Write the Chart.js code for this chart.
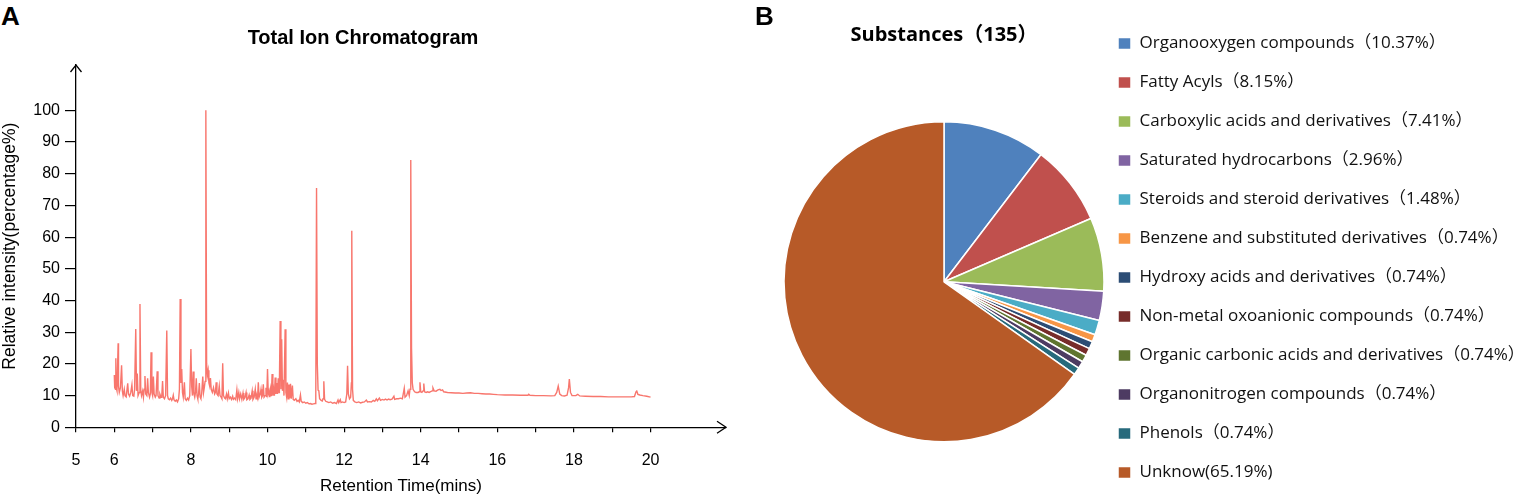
<!DOCTYPE html>
<html>
<head>
<meta charset="utf-8">
<script src="https://cdn.jsdelivr.net/npm/chart.js@4.4.1/dist/chart.umd.min.js"></script>
<style>
    html, body { margin: 0; padding: 0; background: #fff; overflow: hidden; }
    #wrap { position: relative; width: 1520px; height: 495px; }
    #tic-box { position: absolute; left: 0; top: 0; width: 762px; height: 495px; }
    #pie-box { position: absolute; left: 740px; top: 0; width: 780px; height: 516px; }
    .panel { position: absolute; font: bold 26px "Liberation Sans", Arial, sans-serif; color: #000; }
</style>
</head>
<body>
<div id="wrap">
    <div class="panel" style="left:1px; top:1px;">A</div>
    <div id="tic-box"><canvas id="ticChart"></canvas></div>
    <div id="pie-box"><canvas id="pieChart"></canvas></div>
    <div class="panel" style="left:755px; top:1px;">B</div>
</div>

<script>

// chromatogram: retention time (mins) and relative intensity (%)
const retentionTime = [
    6.00, 6.01, 6.03, 6.04, 6.05, 6.07, 6.10, 6.11, 6.13, 6.16, 6.19, 6.21, 6.23, 6.26, 6.28, 6.31, 6.35, 6.37, 6.40, 6.43,
    6.46, 6.48, 6.51, 6.53, 6.56, 6.58, 6.60, 6.62, 6.65, 6.67, 6.69, 6.71, 6.74, 6.76, 6.78, 6.80, 6.82, 6.85, 6.87, 6.89,
    6.92, 6.94, 6.96, 6.98, 7.00, 7.02, 7.04, 7.07, 7.09, 7.12, 7.14, 7.17, 7.19, 7.22, 7.24, 7.26, 7.28, 7.31, 7.34, 7.37,
    7.39, 7.41, 7.44, 7.47, 7.50, 7.52, 7.54, 7.56, 7.59, 7.62, 7.65, 7.68, 7.70, 7.72, 7.74, 7.76, 7.78, 7.80, 7.83, 7.85,
    7.88, 7.91, 7.94, 7.97, 8.00, 8.02, 8.04, 8.06, 8.08, 8.10, 8.12, 8.14, 8.16, 8.18, 8.20, 8.22, 8.24, 8.26, 8.28, 8.31,
    8.33, 8.35, 8.37, 8.39, 8.41, 8.43, 8.45, 8.47, 8.49, 8.51, 8.53, 8.56, 8.59, 8.62, 8.64, 8.66, 8.68, 8.71, 8.74, 8.76,
    8.79, 8.81, 8.83, 8.85, 8.88, 8.90, 8.93, 8.95, 8.98, 9.00, 9.03, 9.06, 9.09, 9.11, 9.14, 9.17, 9.20, 9.22, 9.25, 9.27,
    9.30, 9.33, 9.36, 9.38, 9.41, 9.44, 9.46, 9.49, 9.52, 9.54, 9.57, 9.60, 9.62, 9.65, 9.68, 9.70, 9.72, 9.74, 9.76, 9.78,
    9.81, 9.83, 9.85, 9.87, 9.89, 9.91, 9.94, 9.96, 9.98, 10.00, 10.02, 10.04, 10.06, 10.08, 10.10, 10.12, 10.14, 10.16, 10.18, 10.20,
    10.22, 10.24, 10.26, 10.28, 10.30, 10.31, 10.33, 10.35, 10.37, 10.39, 10.41, 10.43, 10.46, 10.48, 10.50, 10.52, 10.54, 10.56, 10.58, 10.60,
    10.62, 10.65, 10.67, 10.70, 10.74, 10.77, 10.80, 10.83, 10.86, 10.88, 10.92, 10.96, 11.00, 11.04, 11.08, 11.12, 11.16, 11.20, 11.24, 11.26,
    11.28, 11.30, 11.32, 11.34, 11.36, 11.40, 11.43, 11.45, 11.47, 11.49, 11.52, 11.56, 11.60, 11.65, 11.70, 11.75, 11.80, 11.84, 11.86, 11.90,
    11.92, 11.96, 12.00, 12.04, 12.07, 12.09, 12.11, 12.14, 12.17, 12.19, 12.20, 12.22, 12.24, 12.28, 12.33, 12.38, 12.43, 12.48, 12.53, 12.58,
    12.61, 12.66, 12.71, 12.76, 12.80, 12.84, 12.87, 12.92, 12.95, 13.00, 13.04, 13.08, 13.12, 13.16, 13.20, 13.25, 13.30, 13.32, 13.37, 13.42,
    13.47, 13.52, 13.57, 13.59, 13.63, 13.67, 13.70, 13.72, 13.74, 13.76, 13.78, 13.80, 13.84, 13.88, 13.93, 13.96, 13.98, 14.00, 14.03, 14.06,
    14.08, 14.10, 14.14, 14.18, 14.22, 14.27, 14.30, 14.32, 14.35, 14.40, 14.45, 14.50, 14.53, 14.57, 14.60, 14.70, 14.80, 14.90, 15.00, 15.10,
    15.20, 15.30, 15.40, 15.50, 15.60, 15.70, 15.80, 15.90, 16.00, 16.20, 16.40, 16.60, 16.80, 16.82, 16.85, 17.00, 17.20, 17.40, 17.50, 17.55,
    17.59, 17.63, 17.68, 17.75, 17.82, 17.86, 17.88, 17.91, 17.95, 18.05, 18.10, 18.15, 18.30, 18.50, 18.70, 18.90, 19.10, 19.30, 19.50, 19.58,
    19.62, 19.64, 19.67, 19.72, 19.80, 19.90, 20.00
];

const relIntensity = [
    16.5, 12.5, 12.0, 21.8, 12.5, 11.5, 26.5, 13.0, 11.0, 12.5, 19.6, 11.5, 10.0, 12.0, 10.0, 9.6, 13.9, 10.5, 9.8, 11.0,
    13.4, 10.0, 9.8, 12.0, 31.0, 11.5, 17.0, 10.0, 11.0, 38.9, 12.0, 10.0, 11.5, 9.5, 12.0, 16.2, 10.5, 10.0, 15.5, 11.0,
    9.5, 10.5, 23.7, 11.0, 10.0, 16.0, 10.5, 9.5, 10.0, 17.7, 10.0, 9.2, 10.5, 9.5, 10.0, 14.6, 9.5, 9.0, 10.0, 30.5,
    10.0, 9.0, 8.7, 9.2, 8.5, 9.0, 10.1, 8.6, 8.2, 8.6, 8.0, 9.0, 12.0, 40.5, 14.0, 18.4, 11.0, 9.5, 14.2, 9.0,
    8.5, 9.2, 8.6, 10.0, 24.7, 13.0, 10.0, 17.6, 10.5, 9.5, 11.0, 15.5, 10.0, 9.0, 10.5, 14.0, 9.5, 9.0, 10.5, 16.0,
    11.0, 12.5, 14.5, 100, 20.0, 16.5, 18.0, 14.0, 13.0, 15.5, 12.0, 11.0, 12.5, 10.5, 11.0, 14.2, 10.5, 10.0, 13.0, 10.0,
    9.5, 9.0, 20.2, 10.0, 9.2, 9.0, 10.5, 9.0, 10.8, 9.0, 9.5, 8.8, 9.8, 8.8, 9.2, 8.7, 11.8, 9.0, 11.0, 9.0,
    10.5, 8.8, 10.8, 8.8, 9.3, 11.0, 8.7, 9.0, 10.2, 8.8, 9.2, 11.5, 8.8, 9.5, 12.0, 9.0, 10.0, 9.2, 14.2, 9.5,
    10.5, 12.0, 9.5, 10.0, 13.6, 9.5, 10.0, 12.5, 9.5, 18.4, 10.5, 11.5, 9.5, 12.0, 9.8, 16.8, 10.0, 12.0, 10.0, 15.7,
    10.5, 14.0, 10.5, 15.5, 11.0, 14.0, 33.5, 12.0, 27.8, 11.5, 15.0, 10.0, 30.9, 11.0, 9.5, 14.1, 9.0, 13.5, 9.2, 13.7,
    9.0, 13.2, 8.8, 8.5, 9.0, 8.2, 8.5, 8.0, 10.2, 8.2, 7.8, 8.0, 7.6, 7.8, 7.4, 7.5, 7.3, 7.4, 7.5, 10.0,
    75.5, 20.0, 11.7, 11.5, 9.0, 8.5, 8.3, 9.0, 14.5, 8.8, 8.2, 8.0, 7.8, 8.0, 7.6, 7.8, 7.5, 8.6, 7.8, 8.7,
    7.8, 8.0, 7.8, 8.0, 10.5, 19.4, 10.5, 9.0, 9.5, 14.0, 62.0, 12.0, 8.5, 8.0, 7.8, 8.0, 7.7, 7.9, 8.0, 8.6,
    8.0, 8.1, 8.0, 8.5, 8.2, 9.0, 8.4, 9.2, 8.5, 8.8, 8.6, 8.9, 8.6, 8.9, 8.7, 8.9, 9.8, 8.8, 9.0, 9.0,
    9.2, 9.0, 12.3, 9.5, 10.0, 11.5, 10.0, 12.0, 84.3, 25.0, 14.0, 12.0, 11.2, 11.0, 11.0, 11.2, 14.2, 11.2, 11.0, 11.5,
    13.8, 11.2, 11.0, 11.2, 11.0, 11.3, 11.5, 12.4, 11.5, 11.4, 11.8, 12.0, 11.6, 11.8, 11.2, 11.0, 10.9, 10.8, 10.8, 10.7,
    10.8, 10.9, 10.7, 10.7, 10.6, 10.5, 10.5, 10.4, 10.3, 10.2, 10.2, 10.1, 10.1, 10.4, 10.1, 10.0, 10.0, 9.9, 10.0, 11.0,
    13.0, 10.5, 10.0, 9.9, 10.1, 12.5, 15.2, 11.0, 10.0, 10.0, 10.4, 9.9, 9.8, 9.7, 9.7, 9.6, 9.6, 9.6, 9.6, 9.7,
    11.2, 11.45, 10.4, 10.2, 10.0, 9.8, 9.5
];

// axis ticks
const xTickValues = [5, 6, 7, 8, 9, 10, 11, 12, 13, 14, 15, 16, 17, 18, 19, 20];
const xTickLabels = [5, 6, 8, 10, 12, 14, 16, 18, 20];
const yTickValues = [0, 10, 20, 30, 40, 50, 60, 70, 80, 90, 100];

// substance classes (share of 135, %)
const substanceNames = [
    "Organooxygen compounds",
    "Fatty Acyls",
    "Carboxylic acids and derivatives",
    "Saturated hydrocarbons",
    "Steroids and steroid derivatives",
    "Benzene and substituted derivatives",
    "Hydroxy acids and derivatives",
    "Non-metal oxoanionic compounds",
    "Organic carbonic acids and derivatives",
    "Organonitrogen compounds",
    "Phenols",
    "Unknow"
];
const substancePct = [10.37, 8.15, 7.41, 2.96, 1.48, 0.74, 0.74, 0.74, 0.74, 0.74, 0.74, 65.19];
const substanceColors = [
    "#4F81BD", "#C0504D", "#9BBB59", "#8064A2", "#4BACC6", "#F79646",
    "#2C4D75", "#772C2A", "#5F7530", "#4D3B62", "#276A7C", "#B75A28"
];

const SANS = "'Liberation Sans', Arial, Helvetica, sans-serif";
const LEGEND_FONT = "'Open Sans', 'Noto Sans CJK SC', sans-serif";

// arrow heads at the end of both axes
const axisArrows = {
    id: "axisArrows",
    afterDraw(chart) {
        const {ctx, chartArea: a} = chart;
        ctx.save();
        ctx.strokeStyle = "#000";
        ctx.lineWidth = 1.3;
        ctx.beginPath();
        ctx.moveTo(a.right - 9, a.bottom - 6);
        ctx.lineTo(a.right, a.bottom);
        ctx.lineTo(a.right - 9, a.bottom + 6);
        ctx.moveTo(a.left - 5.5, a.top + 7);
        ctx.lineTo(a.left, a.top);
        ctx.lineTo(a.left + 5.5, a.top + 7);
        ctx.stroke();
        ctx.restore();
    }
};

function renderChromatogram() {

    const points = retentionTime.map((t, i) => ({x: t, y: relIntensity[i]}));

    new Chart(document.getElementById("ticChart"), {
        type: "line",
        data: {
            datasets: [{
                data: points,
                borderColor: "#F8766D",
                borderWidth: 1.4,
                pointRadius: 0,
                tension: 0,
                fill: false
            }]
        },
        options: {
            responsive: true,
            maintainAspectRatio: false,
            animation: false,
            layout: { padding: { left: 0, right: 36, top: 0, bottom: 0 } },
            plugins: {
                legend: { display: false },
                tooltip: { enabled: false },
                title: {
                    display: true,
                    text: "Total Ion Chromatogram",
                    color: "#000",
                    font: { family: SANS, size: 20, weight: "bold", lineHeight: 1.2 },
                    padding: { top: 26.5, bottom: 14.5 }
                }
            },
            scales: {
                x: {
                    type: "linear",
                    min: 5,
                    max: 21.97,
                    afterFit: s => { s.height = 67.7; },
                    afterBuildTicks: s => { s.ticks = xTickValues.map(v => ({value: v})); },
                    ticks: {
                        autoSkip: false,
                        maxRotation: 0,
                        padding: 19,
                        color: "#000",
                        font: { family: SANS, size: 16 },
                        callback: v => xTickLabels.includes(v) ? String(v) : ""
                    },
                    grid: { drawOnChartArea: false, tickLength: 5, color: "#000", lineWidth: 1.2 },
                    border: { color: "#000", width: 1.3 },
                    title: {
                        display: true,
                        text: "Retention Time(mins)",
                        color: "#000",
                        font: { family: SANS, size: 17, lineHeight: 1.0 },
                        padding: { top: 0, bottom: 0 }
                    }
                },
                y: {
                    min: 0,
                    max: 114.3,
                    afterFit: s => { s.width = 76; },
                    afterBuildTicks: s => { s.ticks = yTickValues.map(v => ({value: v})); },
                    ticks: {
                        padding: 5,
                        color: "#000",
                        font: { family: SANS, size: 16 }
                    },
                    grid: { drawOnChartArea: false, tickLength: 11, color: "#000", lineWidth: 1.2 },
                    border: { color: "#000", width: 1.3 },
                    title: {
                        display: true,
                        text: "Relative intensity(percentage%)",
                        color: "#000",
                        font: { family: SANS, size: 17.5, lineHeight: 1.15 },
                        padding: { top: 0, bottom: 0 }
                    }
                }
            }
        },
        plugins: [axisArrows]
    });
}

function renderSubstancePie() {

    const labels = substanceNames.map((n, i) =>
        n === "Unknow" ? n + "(" + substancePct[i].toFixed(2) + "%)"
                       : n + "（" + substancePct[i].toFixed(2) + "%）");

    new Chart(document.getElementById("pieChart"), {
        type: "pie",
        data: {
            labels,
            datasets: [{
                data: substancePct,
                backgroundColor: substanceColors,
                borderColor: "#fff",
                borderWidth: 1.5
            }]
        },
        options: {
            responsive: true,
            maintainAspectRatio: false,
            animation: false,
            radius: 160,
            layout: { padding: { left: 52, right: 0, top: 0, bottom: 0 } },
            plugins: {
                tooltip: { enabled: false },
                title: {
                    display: true,
                    fullSize: false,
                    text: "Substances（135）",
                    color: "#000",
                    font: { family: LEGEND_FONT, size: 20, weight: "bold", lineHeight: 1.2 },
                    padding: { top: 23, bottom: 0.6 }
                },
                legend: {
                    position: "right",
                    maxWidth: 424,
                    labels: {
                        boxWidth: 13,
                        boxHeight: 12,
                        padding: 22,
                        color: "#111",
                        font: { family: LEGEND_FONT, size: 17 }
                    }
                }
            }
        }
    });
}

renderChromatogram();
renderSubstancePie();

</script>
</body>
</html>
